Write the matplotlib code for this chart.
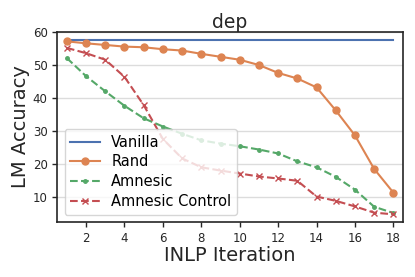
import matplotlib
matplotlib.use('Agg')
import matplotlib.pyplot as plt

# INLP iterations
iterations = list(range(1, 19))

vanilla = [57.5] * 18
rand = [57.2, 56.6, 56.1, 55.6, 55.4, 54.8, 54.4, 53.4, 52.5, 51.6,
        50.0, 47.6, 45.9, 43.2, 36.2, 28.6, 18.4, 11.2]
amnesic = [52.1, 46.6, 42.0, 37.6, 33.8, 31.3, 29.1, 27.1, 26.1, 25.3,
           24.3, 23.1, 20.7, 18.9, 16.0, 12.1, 6.9, 5.0]
amnesic_control = [55.2, 53.6, 51.6, 46.4, 37.8, 27.5, 21.6, 18.9, 17.9, 17.0,
                   16.1, 15.5, 14.8, 10.0, 8.7, 7.0, 5.1, 4.6]

labels = ['Vanilla', 'Rand', 'Amnesic', 'Amnesic Control']
colors = ['#4c72b0', '#dd8452', '#55a868', '#c44e52']

plt.rcParams['font.family'] = ['DejaVu Sans']
fig = plt.figure(figsize=(4.15, 2.77), dpi=100)
ax = fig.add_axes([0.138, 0.199, 0.833, 0.685])

ax.plot(iterations, vanilla, color=colors[0], lw=1.5, label=labels[0])
ax.plot(iterations, rand, color=colors[1], lw=1.5, marker='o', ms=5, label=labels[1])
ax.plot(iterations, amnesic, color=colors[2], lw=1.5, ls='--', marker='.', ms=5, label=labels[2])
ax.plot(iterations, amnesic_control, color=colors[3], lw=1.5, ls='--', marker='x', ms=5,
        label=labels[3])

ax.set_xlim(0.5, 18.5)
ax.set_ylim(2.3, 60)
ax.set_xticks(range(2, 19, 2))
ax.set_yticks(range(10, 61, 10))
ax.grid(axis='y', color='#dcdcdc', lw=1)
ax.set_axisbelow(True)
for s in ax.spines.values():
    s.set_color('#262626')
    s.set_linewidth(1.2)
ax.tick_params(labelsize=8.5, colors='#262626', length=3.5, width=1)

ax.set_title('dep', fontsize=13.5, color='#262626', pad=3)
ax.set_xlabel('INLP Iteration', fontsize=14, color='#262626', labelpad=1)
ax.set_ylabel('LM Accuracy', fontsize=14, color='#262626', labelpad=2)
ax.legend(loc='lower left', fontsize=10.5, labelspacing=0.32, borderaxespad=0.5)

fig.savefig('out.png', dpi=100)
